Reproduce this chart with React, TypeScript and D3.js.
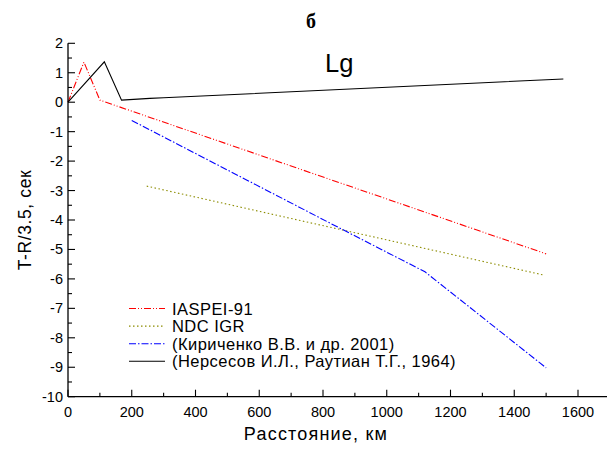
import React from "react";
import * as d3 from "d3";

const W = 607;
const H = 467;

const xTickValues = [0, 200, 400, 600, 800, 1000, 1200, 1400, 1600];
const yTickValues = [2, 1, 0, -1, -2, -3, -4, -5, -6, -7, -8, -9, -10];

const iaspeiDist = [0, 50, 100, 1500];
const iaspeiVal = [0, 1.36, 0.07, -5.15];

const ndcDist = [247, 1493];
const ndcVal = [-2.85, -5.87];

const kirDist = [200, 830, 1120, 1500];
const kirVal = [-0.62, -4.15, -5.76, -9.02];

const nerDist = [0, 114, 168, 257, 300, 1554];
const nerVal = [0, 1.37, 0.07, 0.13, 0.15, 0.79];

const seriesNames = [
  "IASPEI-91",
  "NDC IGR",
  "(Кириченко В.В. и др. 2001)",
  "(Нерсесов И.Л., Раутиан Т.Г., 1964)",
];

const zip = (xs: number[], ys: number[]) => xs.map((x, i) => [x, ys[i]] as [number, number]);

export default function App() {
  const x = d3.scaleLinear().domain([0, 1600]).range([68, 578]);
  const y = d3.scaleLinear().domain([-10, 2]).range([396.7, 43.3]);
  const line = d3
    .line<[number, number]>()
    .x((d) => x(d[0]))
    .y((d) => y(d[1]));

  const series = [
    { name: seriesNames[0], data: zip(iaspeiDist, iaspeiVal), color: "#ff0000", dash: "7,2,1,2,1,2" },
    { name: seriesNames[1], data: zip(ndcDist, ndcVal), color: "#8c8c00", dash: "1.5,2.5" },
    { name: seriesNames[2], data: zip(kirDist, kirVal), color: "#0000ff", dash: "7,2,1.5,2" },
    { name: seriesNames[3], data: zip(nerDist, nerVal), color: "#000000", dash: "none" },
  ];

  const xMinor = d3.range(0, 1701, 100).filter((v) => x(v) <= W);
  const yMinor = d3.range(-10, 2.01, 0.5);
  const font = "'Liberation Sans', Arial, sans-serif";

  return (
    <svg
      width={W}
      height={H}
      style={{ position: "absolute", left: 0, top: 0, background: "#fff" }}
      fontFamily={font}
    >
      <rect x={0} y={0} width={W} height={H} fill="#fff" />
      {/* title */}
      <text x={311} y={28} textAnchor="middle" fontFamily="'Liberation Serif', serif" fontWeight="bold" fontSize={20}>
        б
      </text>
      {/* series lines */}
      {series.map((s) => (
        <path
          key={s.name}
          d={line(s.data) || ""}
          fill="none"
          stroke={s.color}
          strokeWidth={1.1}
          strokeDasharray={s.dash}
        />
      ))}
      {/* axes */}
      <line x1={x(0)} x2={W} y1={y(-10)} y2={y(-10)} stroke="#000" strokeWidth={1.3} />
      <line x1={x(0)} x2={x(0)} y1={y(-10)} y2={y(2)} stroke="#000" strokeWidth={1.3} />
      {xMinor.map((v) => (
        <line
          key={"xt" + v}
          x1={x(v)}
          x2={x(v)}
          y1={y(-10)}
          y2={y(-10) - (v % 200 === 0 ? 7 : 4)}
          stroke="#000"
          strokeWidth={1.1}
        />
      ))}
      {yMinor.map((v) => (
        <line
          key={"yt" + v}
          x1={x(0)}
          x2={x(0) + (Math.abs(v % 1) < 1e-9 ? 7 : 4)}
          y1={y(v)}
          y2={y(v)}
          stroke="#000"
          strokeWidth={1.1}
        />
      ))}
      {xTickValues.map((v) => (
        <text key={"xl" + v} x={x(v)} y={417} textAnchor="middle" fontSize={14.5}>
          {v}
        </text>
      ))}
      {yTickValues.map((v) => (
        <text key={"yl" + v} x={63} y={y(v) + 5} textAnchor="end" fontSize={14.5}>
          {v}
        </text>
      ))}
      <text x={316} y={440} textAnchor="middle" fontSize={18} letterSpacing={1.2}>
        Расстояние, км
      </text>
      <text
        transform={`translate(31, ${y(-4)}) rotate(-90)`}
        textAnchor="middle"
        fontSize={17.5}
        letterSpacing={0.6}
      >
        T-R/3.5, сек
      </text>
      <text x={325} y={72} fontSize={25.5}>
        Lg
      </text>
      {/* legend */}
      {series.map((s, i) => {
        const ly = 308.5 + i * 17.6;
        return (
          <g key={"lg" + i}>
            <line x1={129} x2={165} y1={ly} y2={ly} stroke={s.color} strokeWidth={1.1} strokeDasharray={s.dash} />
            <text x={172} y={ly + 6} fontSize={16.5} letterSpacing={0.45}>
              {s.name}
            </text>
          </g>
        );
      })}
    </svg>
  );
}
